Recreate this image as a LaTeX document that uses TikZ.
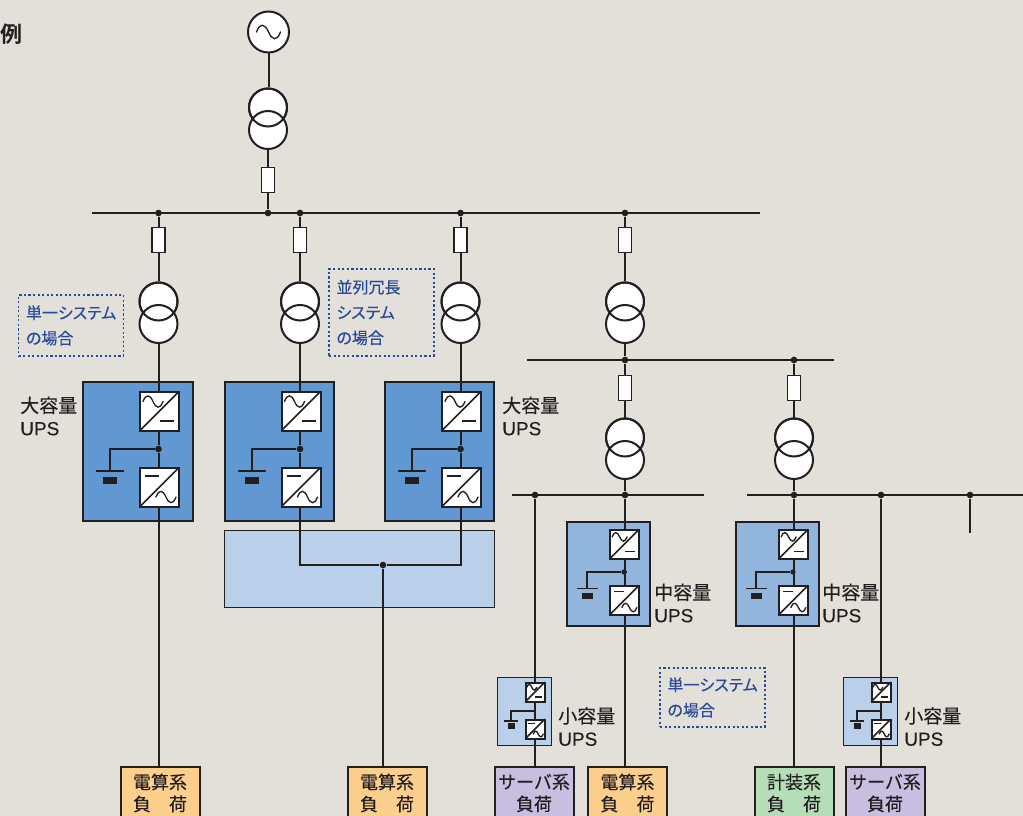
\documentclass[tikz,border=0pt]{standalone}
\usepackage{fontspec}
\setmainfont{Noto Sans CJK JP}
\newfontfamily\lat[FakeBold=0.2]{Liberation Sans}
\newfontfamily\cjkm[FakeBold=0.25]{Noto Sans CJK JP}
\newfontfamily\cjkn[FakeBold=0.35,RawFeature={+palt}]{Noto Sans CJK JP}
\newfontfamily\cjkb[BoldFont={Noto Sans CJK JP Bold}]{Noto Sans CJK JP}
\definecolor{paper}{HTML}{E3E0DA}
\definecolor{ink}{HTML}{231F20}
\definecolor{upsL}{HTML}{6198D1}
\definecolor{upsM}{HTML}{92B5DE}
\definecolor{upsS}{HTML}{BACFE9}
\definecolor{noteblue}{HTML}{2A4A9A}
\definecolor{loadO}{HTML}{FDCF8C}
\definecolor{loadP}{HTML}{C6BFE0}
\definecolor{loadG}{HTML}{B5DDB7}
\pgfdeclarelayer{boxes}
\pgfdeclarelayer{wires}
\pgfsetlayers{boxes,wires,main}
\tikzset{
  wire/.style={draw=ink,line width=1.5pt},
  dot/.style={circle,fill=ink,inner sep=0pt,minimum size=5pt},
  xf/.style={circle,draw=ink,fill=white,line width=1.5pt,inner sep=0pt,minimum size=28.5pt},
  gen/.style={circle,draw=ink,fill=white,line width=1.5pt,inner sep=0pt,minimum size=30.75pt},
  brk/.style={rectangle,draw=ink,fill=white,line width=1.2pt,inner sep=0pt,minimum width=10pt,minimum height=19pt},
  convbox/.style={rectangle,draw=ink,fill=white,line width=1.5pt,inner sep=0pt},
  upsbox/.style={rectangle,draw=ink,line width=1.5pt,inner sep=0pt},
  loadbox/.style={rectangle,draw=ink,line width=1.5pt,inner sep=0pt,minimum width=59.25pt,minimum height=39pt,
    align=center,text=ink,font=\cjkm\fontsize{13.5}{16.5}\selectfont},
  note/.style={rectangle,draw=noteblue,line width=1.2pt,dash pattern=on 1.6pt off 1.8pt,inner xsep=5.5pt,inner ysep=0pt,
    text width=67.5pt,align=left,text=noteblue,font=\cjkn\fontsize{12}{19}\selectfont},
  upslabel/.style={anchor=west,inner sep=0pt,align=left,text=ink,font=\cjkm\fontsize{14.25}{17}\selectfont},
}
\newcommand{\tildeshape}[3]{% x, y, half width
  \draw[ink,line width=1pt,line cap=round,shift={(#1,#2)},xscale=#3/10,yscale=#3/10]
    (-10,0) .. controls (-7,-8) and (-3,-7) .. (0,0) .. controls (3,7) and (7,8) .. (10,0);}
\newcommand{\conv}[5]{% name, cx, cy, size, type (0 ac-top, 1 dc-top)
  \node[convbox,minimum width=#4*0.75pt-0.75pt,minimum height=#4*0.75pt-0.75pt] (#1) at (#2,#3) {};
  \begin{scope}[shift={(#2,#3)},scale=#4/40]
    \draw[ink,line width=1.3pt] (-19.5,19.5) -- (19.5,-19.5);
    \ifnum#5=0
      \draw[ink,line width=1pt] (0.5,10) -- (14.5,10);
      \tildeshape{-6.5}{-9.5}{10}
    \else
      \draw[ink,line width=1pt] (-14.5,-11) -- (-0.5,-11);
      \tildeshape{6.5}{10}{10}
    \fi
  \end{scope}}
\newcommand{\xfmr}[3]{% name, x, y of upper centre
  \node[xf] (#1a) at (#2,#3) {};
  \node[xf] (#1b) at (#2,#3+22.5) {};
  \draw[ink,line width=1.5pt] (#2,#3) circle [radius=19];}
\newcommand{\batt}[7]{% name, x, plate y, half plate, half bat w, bat top, bat height
  \coordinate (#1n) at (#2,#3);
  \coordinate (#1l) at (#2-#4,#3);
  \coordinate (#1r) at (#2+#4,#3);
  \node[rectangle,fill=ink,inner sep=0pt,minimum width=#5*1.5pt,minimum height=#7*0.75pt] (#1b) at (#2,#6+#7/2) {};
  \draw[ink,line width=1.1pt] (#1l) -- (#1r);}
\begin{document}
\begin{tikzpicture}[x=0.75pt,y=-0.75pt]
\useasboundingbox (0,0) rectangle (1023,816);
\begin{pgfonlayer}{boxes}
  \fill[paper] (0,0) rectangle (1023,816);
  \node[upsbox,fill=upsL,minimum width=82.25pt,minimum height=104.25pt] (u1) at (138,451) {};
  \node[upsbox,fill=upsL,minimum width=82.25pt,minimum height=104.25pt] (u2) at (279.5,451) {};
  \node[upsbox,fill=upsL,minimum width=82.25pt,minimum height=104.25pt] (u3) at (439.5,451) {};
  \node[rectangle,draw=ink,line width=0.9pt,fill=upsS,inner sep=0pt,minimum width=203pt,minimum height=58.25pt] (ssw) at (359.5,569) {};
  \node[upsbox,fill=upsM,minimum width=62.25pt,minimum height=78pt] (u4) at (608,573.5) {};
  \node[upsbox,fill=upsM,minimum width=62.25pt,minimum height=78pt] (u5) at (777,573.5) {};
  \node[upsbox,fill=upsS,line width=1.2pt,minimum width=40.75pt,minimum height=51.25pt] (u6) at (524.5,711.5) {};
  \node[upsbox,fill=upsS,line width=1.2pt,minimum width=40.75pt,minimum height=51.25pt] (u7) at (870.5,711.5) {};
\end{pgfonlayer}

% source
\node[gen] (g) at (268.5,32) {};
\tildeshape{268.5}{32}{12}
\xfmr{t0}{268}{107.5}
\node[brk] (b0) at (268,180) {};

% main bus
\coordinate (busAL) at (92,213);
\coordinate (busAR) at (760,213);
\node[dot] (d1) at (158.5,213) {};
\node[dot] (d0) at (268,213) {};
\node[dot] (d2) at (300,213) {};
\node[dot] (d3) at (460.5,213) {};
\node[dot] (d4) at (625,213) {};

\node[brk] (b1) at (158.5,240) {};
\node[brk] (b2) at (300,240) {};
\node[brk] (b3) at (460.5,240) {};
\node[brk] (b4) at (625,240) {};
\xfmr{t1}{158.5}{301.5}
\xfmr{t2}{300}{301.5}
\xfmr{t3}{460.5}{301.5}
\xfmr{t4}{625}{301.5}

% second bus
\coordinate (busBL) at (527,360);
\coordinate (busBR) at (834,360);
\node[dot] (e1) at (625,360) {};
\node[dot] (e2) at (794,360) {};
\node[brk] (b5) at (625,388) {};
\node[brk] (b6) at (794,388) {};
\xfmr{t5}{625}{437.5}
\xfmr{t6}{794}{437.5}

% third buses
\coordinate (busCL) at (512,495);
\coordinate (busCR) at (704,495);
\coordinate (busDL) at (747,495);
\coordinate (busDR) at (1023,495);
\node[dot] (f1) at (535,495) {};
\node[dot] (f2) at (625,495) {};
\node[dot] (f3) at (794,495) {};
\node[dot] (f4) at (881,495) {};
\node[dot] (f5) at (970,495) {};
\coordinate (stub) at (970,533);

% large UPS
\conv{c1a}{159.5}{411}{40}{0}
\conv{c1b}{159.5}{487}{40}{1}
\node[dot] (j1) at (158.5,449) {};
\batt{bt1}{110}{471}{14}{7}{477}{6.5}
\conv{c2a}{301}{411}{40}{0}
\conv{c2b}{301}{487}{40}{1}
\node[dot] (j2) at (300,449) {};
\batt{bt2}{251.5}{471}{14}{7}{477}{6.5}
\conv{c3a}{461.5}{411}{40}{0}
\conv{c3b}{461.5}{487}{40}{1}
\node[dot] (j3) at (460.5,449) {};
\batt{bt3}{412}{471}{14}{7}{477}{6.5}
\coordinate (ssL) at (300,565);
\coordinate (ssR) at (460.5,565);
\node[dot] (j4) at (383,565) {};

% medium UPS
\conv{c4a}{624.5}{544}{30}{0}
\conv{c4b}{624.5}{600}{30}{1}
\node[dot,minimum size=4pt] (j5) at (624,572) {};
\batt{bt4}{587}{588.5}{10.5}{5.5}{593}{5.5}
\conv{c5a}{793.5}{544}{30}{0}
\conv{c5b}{793.5}{600}{30}{1}
\node[dot,minimum size=4pt] (j6) at (793,572) {};
\batt{bt5}{756}{588.5}{10.5}{5.5}{593}{5.5}

% small UPS
\conv{c6a}{535}{692}{20}{0}
\conv{c6b}{535}{729}{20}{1}
\coordinate (j7) at (535,711);
\batt{bt6}{511}{721}{7}{3.5}{723}{6}
\conv{c7a}{881}{692}{20}{0}
\conv{c7b}{881}{729}{20}{1}
\coordinate (j8) at (881,711);
\batt{bt7}{857}{721}{7}{3.5}{723}{6}

% loads
\node[loadbox,fill=loadO] (l1) at (160,793) {電算系\\負　荷};
\node[loadbox,fill=loadO] (l2) at (387,793) {電算系\\負　荷};
\node[loadbox,fill=loadP] (l3) at (534,793) {サーバ系\\負荷};
\node[loadbox,fill=loadO] (l4) at (627.5,793) {電算系\\負　荷};
\node[loadbox,fill=loadG] (l5) at (794,793) {計装系\\負　荷};
\node[loadbox,fill=loadP] (l6) at (885,793) {サーバ系\\負荷};

% wires
\begin{pgfonlayer}{wires}
  \draw[wire] (g) -- (g |- t0a.north);
  \draw[wire] (t0b) -- (b0);
  \draw[wire] (b0) -- (d0);
  \draw[wire] (busAL) -- (busAR);
  \draw[wire] (d1) -- (b1);
  \draw[wire] (d2) -- (b2);
  \draw[wire] (d3) -- (b3);
  \draw[wire] (d4) -- (b4);
  \draw[wire] (b1) -- (t1a);
  \draw[wire] (b2) -- (t2a);
  \draw[wire] (b3) -- (t3a);
  \draw[wire] (b4) -- (t4a);
  \draw[wire] (t1b) -- (j1);
  \draw[wire] (t2b) -- (j2);
  \draw[wire] (t3b) -- (j3);
  \draw[wire] (t4b) -- (e1);
  \draw[wire] (busBL) -- (busBR);
  \draw[wire] (e1) -- (b5);
  \draw[wire] (e2) -- (b6);
  \draw[wire] (b5) -- (t5a);
  \draw[wire] (b6) -- (t6a);
  \draw[wire] (t5b) -- (f2);
  \draw[wire] (t6b) -- (f3);
  \draw[wire] (busCL) -- (busCR);
  \draw[wire] (busDL) -- (busDR);
  \draw[wire] (f5) -- (stub);
  % large
  \draw[wire] (j1) -- (j1 |- l1.north);
  \draw[wire] (j1) -| (bt1n);
  \draw[wire] (j2) -| (bt2n);
  \draw[wire] (j3) -| (bt3n);
  \draw[wire] (j2) -- (ssL) -- (j4) -- (ssR) -- (j3);
  \draw[wire] (j4) -- (j4 |- l2.north);
  % medium
  \draw[wire] (f2) -- (f2 |- l4.north);
  \draw[wire] (f2 |- j5) -- (j5);
  \draw[wire] (j5) -| (bt4n);
  \draw[wire] (f3) -- (f3 |- l5.north);
  \draw[wire] (j6) -| (bt5n);
  % small
  \draw[wire] (f1) -- (c6a);
  \draw[wire] (c6a) -- (c6b);
  \draw[wire,line width=1.2pt] (j7) -| (bt6n);
  \draw[wire] (c6b) -- (c6b |- l3.north);
  \draw[wire] (f4) -- (c7a);
  \draw[wire] (c7a) -- (c7b);
  \draw[wire,line width=1.2pt] (j8) -| (bt7n);
  \draw[wire] (c7b) -- (c7b |- l6.north);
\end{pgfonlayer}

% texts
\node[inner sep=0pt,text=ink,font=\cjkb\bfseries\fontsize{16.5}{20}\selectfont] (title) at (11,34) {例};
\node[note,minimum height=45.75pt] (n1) at (71,325.5) {単一システム\\の場合};
\node[note,minimum height=65.25pt] (n2) at (381.5,312.5) {並列冗長\\システム\\の場合};
\node[note,minimum height=44.25pt] (n3) at (712.5,697.5) {単一システム\\の場合};
\node[upslabel] (a1) at (20,416) {大容量\\{\lat UPS}};
\node[upslabel] (a2) at (502,416) {大容量\\{\lat UPS}};
\node[upslabel] (a3) at (654,603) {中容量\\{\lat UPS}};
\node[upslabel] (a4) at (822,603) {中容量\\{\lat UPS}};
\node[upslabel] (a5) at (558,726.5) {小容量\\{\lat UPS}};
\node[upslabel] (a6) at (904,726.5) {小容量\\{\lat UPS}};
\end{tikzpicture}
\end{document}
